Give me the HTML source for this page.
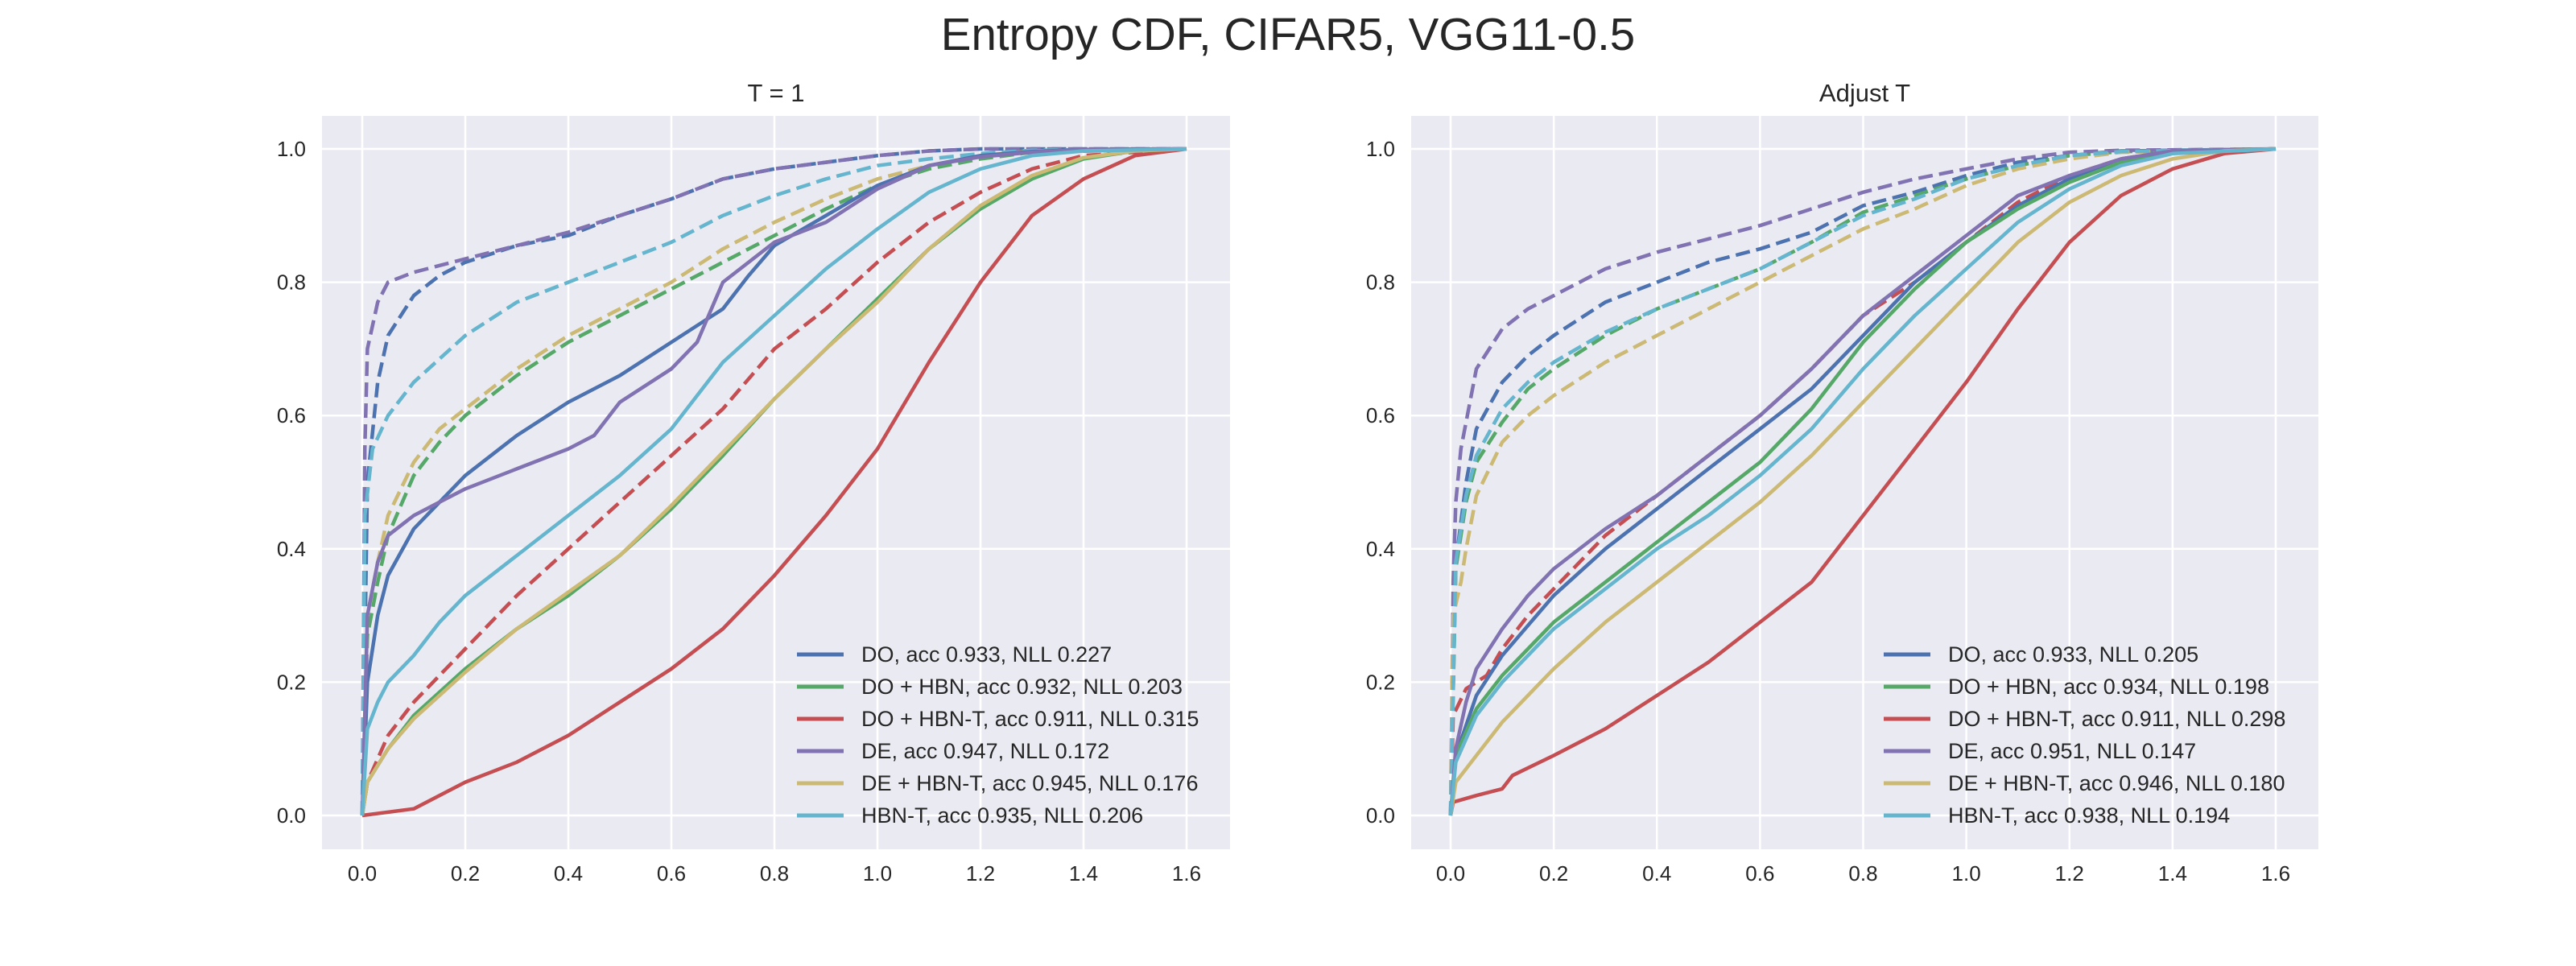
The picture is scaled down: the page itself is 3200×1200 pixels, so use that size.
<!DOCTYPE html>
<html><head><meta charset="utf-8"><style>
html,body{margin:0;padding:0;background:#fff;}
svg{display:block;font-family:"Liberation Sans",sans-serif;}
</style></head><body>
<svg id="fig" width="3200" height="1200" viewBox="0 0 3200 1200" xmlns="http://www.w3.org/2000/svg">
<text x="1600" y="62" font-size="56.5" text-anchor="middle" fill="#262626">Entropy CDF, CIFAR5, VGG11-0.5</text>
</svg>
<script>
// ---------- Left panel (T = 1) data ----------
const L_DO_x = [0,0.01,0.03,0.05,0.1,0.15,0.2,0.3,0.4,0.5,0.6,0.7,0.75,0.8,0.9,1.0,1.1,1.2,1.3,1.4,1.6];
const L_DO_y = [0,0.2,0.3,0.36,0.43,0.47,0.51,0.57,0.62,0.66,0.71,0.76,0.81,0.855,0.9,0.945,0.975,0.99,0.996,0.999,1];
const L_DOHBN_x = [0,0.01,0.05,0.1,0.2,0.3,0.4,0.5,0.6,0.7,0.8,0.9,1.0,1.1,1.2,1.3,1.4,1.5,1.6];
const L_DOHBN_y = [0,0.05,0.1,0.15,0.22,0.28,0.33,0.39,0.46,0.54,0.625,0.7,0.775,0.85,0.91,0.955,0.985,0.997,1];
const L_DOHBNT_x = [0,0.1,0.2,0.3,0.4,0.5,0.6,0.7,0.8,0.9,1.0,1.1,1.2,1.3,1.4,1.5,1.6];
const L_DOHBNT_y = [0,0.01,0.05,0.08,0.12,0.17,0.22,0.28,0.36,0.45,0.55,0.68,0.8,0.9,0.955,0.99,1];
const L_DE_x = [0,0.01,0.03,0.05,0.1,0.15,0.2,0.3,0.4,0.45,0.5,0.6,0.65,0.7,0.8,0.9,1.0,1.1,1.2,1.3,1.4,1.6];
const L_DE_y = [0,0.3,0.38,0.42,0.45,0.47,0.49,0.52,0.55,0.57,0.62,0.67,0.71,0.8,0.86,0.89,0.94,0.975,0.988,0.995,0.999,1];
const L_DEHBNT_x = [0,0.01,0.05,0.1,0.2,0.3,0.4,0.5,0.6,0.7,0.8,0.9,1.0,1.1,1.2,1.3,1.4,1.5,1.6];
const L_DEHBNT_y = [0,0.05,0.1,0.145,0.215,0.28,0.335,0.39,0.465,0.545,0.625,0.7,0.77,0.85,0.915,0.96,0.987,0.997,1];
const L_HBNT_x = [0,0.01,0.03,0.05,0.1,0.15,0.2,0.3,0.4,0.5,0.6,0.7,0.8,0.9,1.0,1.1,1.2,1.3,1.4,1.6];
const L_HBNT_y = [0,0.13,0.17,0.2,0.24,0.29,0.33,0.39,0.45,0.51,0.58,0.68,0.75,0.82,0.88,0.935,0.97,0.99,0.997,1];
const L_DOd_x = [0,0.01,0.03,0.05,0.1,0.15,0.2,0.3,0.4,0.5,0.6,0.7,0.8,0.9,1.0,1.1,1.2,1.6];
const L_DOd_y = [0,0.5,0.65,0.72,0.78,0.81,0.83,0.855,0.87,0.9,0.925,0.955,0.97,0.98,0.99,0.997,1,1];
const L_DOHBNd_x = [0,0.01,0.03,0.05,0.1,0.15,0.2,0.3,0.4,0.5,0.6,0.7,0.8,0.9,1.0,1.1,1.2,1.3,1.6];
const L_DOHBNd_y = [0,0.27,0.35,0.42,0.51,0.56,0.6,0.66,0.71,0.75,0.79,0.83,0.87,0.91,0.945,0.97,0.985,0.995,1];
const L_DOHBNTd_x = [0,0.01,0.05,0.1,0.2,0.3,0.4,0.5,0.6,0.7,0.8,0.9,1.0,1.1,1.2,1.3,1.4,1.6];
const L_DOHBNTd_y = [0,0.05,0.12,0.17,0.25,0.33,0.4,0.47,0.54,0.61,0.7,0.76,0.83,0.89,0.935,0.97,0.99,1];
const L_DEd_x = [0,0.005,0.01,0.03,0.05,0.1,0.2,0.3,0.4,0.5,0.6,0.7,0.8,0.9,1.0,1.1,1.2,1.6];
const L_DEd_y = [0,0.55,0.7,0.77,0.8,0.815,0.835,0.855,0.875,0.9,0.925,0.955,0.97,0.98,0.99,0.997,1,1];
const L_DEHBNTd_x = [0,0.01,0.03,0.05,0.1,0.15,0.2,0.3,0.4,0.5,0.6,0.7,0.8,0.9,1.0,1.1,1.2,1.3,1.6];
const L_DEHBNTd_y = [0,0.3,0.38,0.45,0.53,0.58,0.61,0.67,0.72,0.76,0.8,0.85,0.89,0.925,0.955,0.975,0.99,0.997,1];
const L_HBNTd_x = [0,0.005,0.02,0.05,0.1,0.2,0.3,0.4,0.5,0.6,0.7,0.8,0.9,1.0,1.1,1.2,1.3,1.6];
const L_HBNTd_y = [0,0.45,0.55,0.6,0.65,0.72,0.77,0.8,0.83,0.86,0.9,0.93,0.955,0.975,0.985,0.993,0.998,1];

// ---------- Right panel (Adjust T) data ----------
const R_DO_x = [0,0.01,0.05,0.1,0.2,0.3,0.4,0.5,0.6,0.7,0.8,0.9,1.0,1.1,1.2,1.3,1.4,1.6];
const R_DO_y = [0,0.09,0.18,0.24,0.33,0.4,0.46,0.52,0.58,0.64,0.72,0.8,0.86,0.915,0.955,0.98,0.995,1];
const R_DOHBN_x = [0,0.01,0.05,0.1,0.2,0.3,0.4,0.5,0.6,0.7,0.8,0.9,1.0,1.1,1.2,1.3,1.4,1.6];
const R_DOHBN_y = [0,0.09,0.16,0.21,0.29,0.35,0.41,0.47,0.53,0.61,0.71,0.79,0.86,0.91,0.95,0.98,0.995,1];
const R_DOHBNT_x = [0,0.005,0.05,0.1,0.12,0.2,0.3,0.4,0.5,0.6,0.7,0.8,0.9,1.0,1.1,1.2,1.3,1.4,1.5,1.6];
const R_DOHBNT_y = [0,0.02,0.03,0.04,0.06,0.09,0.13,0.18,0.23,0.29,0.35,0.45,0.55,0.65,0.76,0.86,0.93,0.97,0.993,1];
const R_DE_x = [0,0.01,0.03,0.05,0.1,0.15,0.2,0.3,0.4,0.5,0.6,0.7,0.8,0.9,1.0,1.1,1.2,1.3,1.4,1.6];
const R_DE_y = [0,0.1,0.17,0.22,0.28,0.33,0.37,0.43,0.48,0.54,0.6,0.67,0.75,0.81,0.87,0.93,0.96,0.985,0.997,1];
const R_DEHBNT_x = [0,0.01,0.05,0.1,0.2,0.3,0.4,0.5,0.6,0.7,0.8,0.9,1.0,1.1,1.2,1.3,1.4,1.5,1.6];
const R_DEHBNT_y = [0,0.05,0.09,0.14,0.22,0.29,0.35,0.41,0.47,0.54,0.62,0.7,0.78,0.86,0.92,0.96,0.985,0.997,1];
const R_HBNT_x = [0,0.01,0.05,0.1,0.2,0.3,0.4,0.5,0.6,0.7,0.8,0.9,1.0,1.1,1.2,1.3,1.4,1.6];
const R_HBNT_y = [0,0.08,0.15,0.2,0.28,0.34,0.4,0.45,0.51,0.58,0.67,0.75,0.82,0.89,0.94,0.975,0.993,1];
const R_DOd_x = [0,0.01,0.03,0.05,0.1,0.15,0.2,0.3,0.4,0.5,0.6,0.7,0.8,0.9,1.0,1.1,1.2,1.3,1.6];
const R_DOd_y = [0,0.38,0.5,0.58,0.65,0.69,0.72,0.77,0.8,0.83,0.85,0.875,0.915,0.935,0.96,0.98,0.99,0.997,1];
const R_DOHBNd_x = [0,0.01,0.03,0.05,0.1,0.15,0.2,0.3,0.4,0.5,0.6,0.7,0.8,0.9,1.0,1.1,1.2,1.3,1.6];
const R_DOHBNd_y = [0,0.37,0.47,0.53,0.59,0.64,0.67,0.72,0.76,0.79,0.82,0.86,0.905,0.93,0.955,0.975,0.99,0.996,1];
const R_DOHBNTd_x = [0,0.005,0.03,0.07,0.1,0.15,0.2,0.3,0.4,0.5,0.6,0.7,0.8,0.9,1.0,1.1,1.2,1.3,1.4,1.6];
const R_DOHBNTd_y = [0,0.15,0.19,0.21,0.25,0.3,0.34,0.42,0.48,0.54,0.6,0.67,0.75,0.8,0.86,0.92,0.96,0.985,0.997,1];
const R_DEd_x = [0,0.005,0.01,0.02,0.05,0.1,0.15,0.2,0.3,0.4,0.5,0.6,0.7,0.8,0.9,1.0,1.1,1.2,1.3,1.6];
const R_DEd_y = [0,0.35,0.47,0.55,0.67,0.73,0.76,0.78,0.82,0.845,0.865,0.885,0.91,0.935,0.955,0.97,0.985,0.995,0.998,1];
const R_DEHBNTd_x = [0,0.005,0.02,0.03,0.05,0.1,0.15,0.2,0.3,0.4,0.5,0.6,0.7,0.8,0.9,1.0,1.1,1.2,1.3,1.6];
const R_DEHBNTd_y = [0,0.3,0.35,0.4,0.48,0.56,0.6,0.63,0.68,0.72,0.76,0.8,0.84,0.88,0.91,0.945,0.97,0.985,0.995,1];
const R_HBNTd_x = [0,0.01,0.03,0.05,0.1,0.15,0.2,0.3,0.4,0.5,0.6,0.7,0.8,0.9,1.0,1.1,1.2,1.3,1.6];
const R_HBNTd_y = [0,0.38,0.48,0.54,0.61,0.65,0.68,0.725,0.76,0.79,0.82,0.86,0.9,0.925,0.955,0.975,0.99,0.996,1];

const xTicks = [0,0.2,0.4,0.6,0.8,1.0,1.2,1.4,1.6];
const yTicks = [0,0.2,0.4,0.6,0.8,1.0];
const colors = ['#4c72b0','#55a868','#c44e52','#8172b2','#ccb974','#64b5cd'];
const L_labels = ['DO, acc 0.933, NLL 0.227','DO + HBN, acc 0.932, NLL 0.203','DO + HBN-T, acc 0.911, NLL 0.315','DE, acc 0.947, NLL 0.172','DE + HBN-T, acc 0.945, NLL 0.176','HBN-T, acc 0.935, NLL 0.206'];
const R_labels = ['DO, acc 0.933, NLL 0.205','DO + HBN, acc 0.934, NLL 0.198','DO + HBN-T, acc 0.911, NLL 0.298','DE, acc 0.951, NLL 0.147','DE + HBN-T, acc 0.946, NLL 0.180','HBN-T, acc 0.938, NLL 0.194'];

const NS='http://www.w3.org/2000/svg';
const fig=document.getElementById('fig');
function mk(tag,attrs,parent){const e=document.createElementNS(NS,tag);for(const k in attrs)e.setAttribute(k,attrs[k]);(parent||fig).appendChild(e);return e;}

function panel(opt){
  const g=mk('g',{});
  
  
  const sx=v=>opt.x0+v*(opt.x16-opt.x0)/1.6;
  const sy=v=>opt.y0-v*(opt.y0-opt.y1);
  const bg=mk('rect',{x:opt.bx0,y:144,width:opt.bx1-opt.bx0,height:1055-144,fill:'#eaeaf2'},g);
  
  
  xTicks.forEach(t=>{
    const l=mk('line',{x1:sx(t),x2:sx(t),y1:144,y2:1055,stroke:'#fff','stroke-width':2.5},g);
    
    
    const tx=mk('text',{x:sx(t),y:1094,'font-size':26,'text-anchor':'middle',fill:'#262626'},g);
    tx.textContent=t.toFixed(1);
    
    
  });
  yTicks.forEach(t=>{
    const l=mk('line',{x1:opt.bx0,x2:opt.bx1,y1:sy(t),y2:sy(t),stroke:'#fff','stroke-width':2.5},g);
    
    
    const tx=mk('text',{x:opt.bx0-20,y:sy(t)+9,'font-size':26,'text-anchor':'end',fill:'#262626'},g);
    tx.textContent=t.toFixed(1);
    
    
  });
  const ti=mk('text',{x:(opt.bx0+opt.bx1)/2,y:126,'font-size':31,'text-anchor':'middle',fill:'#262626'},g);
  ti.textContent=opt.title;
  
  
  const draw=(xs,ys,c,dash,nm)=>{
    const d=xs.map((v,i)=>(i?'L':'M')+sx(v).toFixed(1)+','+sy(ys[i]).toFixed(1)).join(' ');
    const a={d:d,fill:'none',stroke:c,'stroke-width':4.5,'stroke-linejoin':'round'};
    if(dash)a['stroke-dasharray']='18,8';
    const p=mk('path',a,g);
    
    
  };
  opt.dashed.forEach((s,i)=>draw(s[0],s[1],colors[i],true,'dashed-line-'+i));
  opt.solid.forEach((s,i)=>draw(s[0],s[1],colors[i],false,'solid-line-'+i));
  opt.labels.forEach((lb,i)=>{
    const y=813+i*40;
    const l=mk('line',{x1:opt.lx,x2:opt.lx+58,y1:y,y2:y,stroke:colors[i],'stroke-width':5},g);
    
    
    const t=mk('text',{x:opt.lx+80,y:y+9,'font-size':27,fill:'#262626'},g);
    t.textContent=lb;
    
    
  });
}
panel({name:'left-panel',title:'T = 1',bx0:400,bx1:1528,x0:450,x16:1474,y0:1013,y1:185,lx:990,labels:L_labels,
  solid:[[L_DO_x,L_DO_y],[L_DOHBN_x,L_DOHBN_y],[L_DOHBNT_x,L_DOHBNT_y],[L_DE_x,L_DE_y],[L_DEHBNT_x,L_DEHBNT_y],[L_HBNT_x,L_HBNT_y]],
  dashed:[[L_DOd_x,L_DOd_y],[L_DOHBNd_x,L_DOHBNd_y],[L_DOHBNTd_x,L_DOHBNTd_y],[L_DEd_x,L_DEd_y],[L_DEHBNTd_x,L_DEHBNTd_y],[L_HBNTd_x,L_HBNTd_y]]});
panel({name:'right-panel',title:'Adjust T',bx0:1753,bx1:2880,x0:1802,x16:2827,y0:1013,y1:185,lx:2340,labels:R_labels,
  solid:[[R_DO_x,R_DO_y],[R_DOHBN_x,R_DOHBN_y],[R_DOHBNT_x,R_DOHBNT_y],[R_DE_x,R_DE_y],[R_DEHBNT_x,R_DEHBNT_y],[R_HBNT_x,R_HBNT_y]],
  dashed:[[R_DOd_x,R_DOd_y],[R_DOHBNd_x,R_DOHBNd_y],[R_DOHBNTd_x,R_DOHBNTd_y],[R_DEd_x,R_DEd_y],[R_DEHBNTd_x,R_DEHBNTd_y],[R_HBNTd_x,R_HBNTd_y]]});
</script>
</body></html>
